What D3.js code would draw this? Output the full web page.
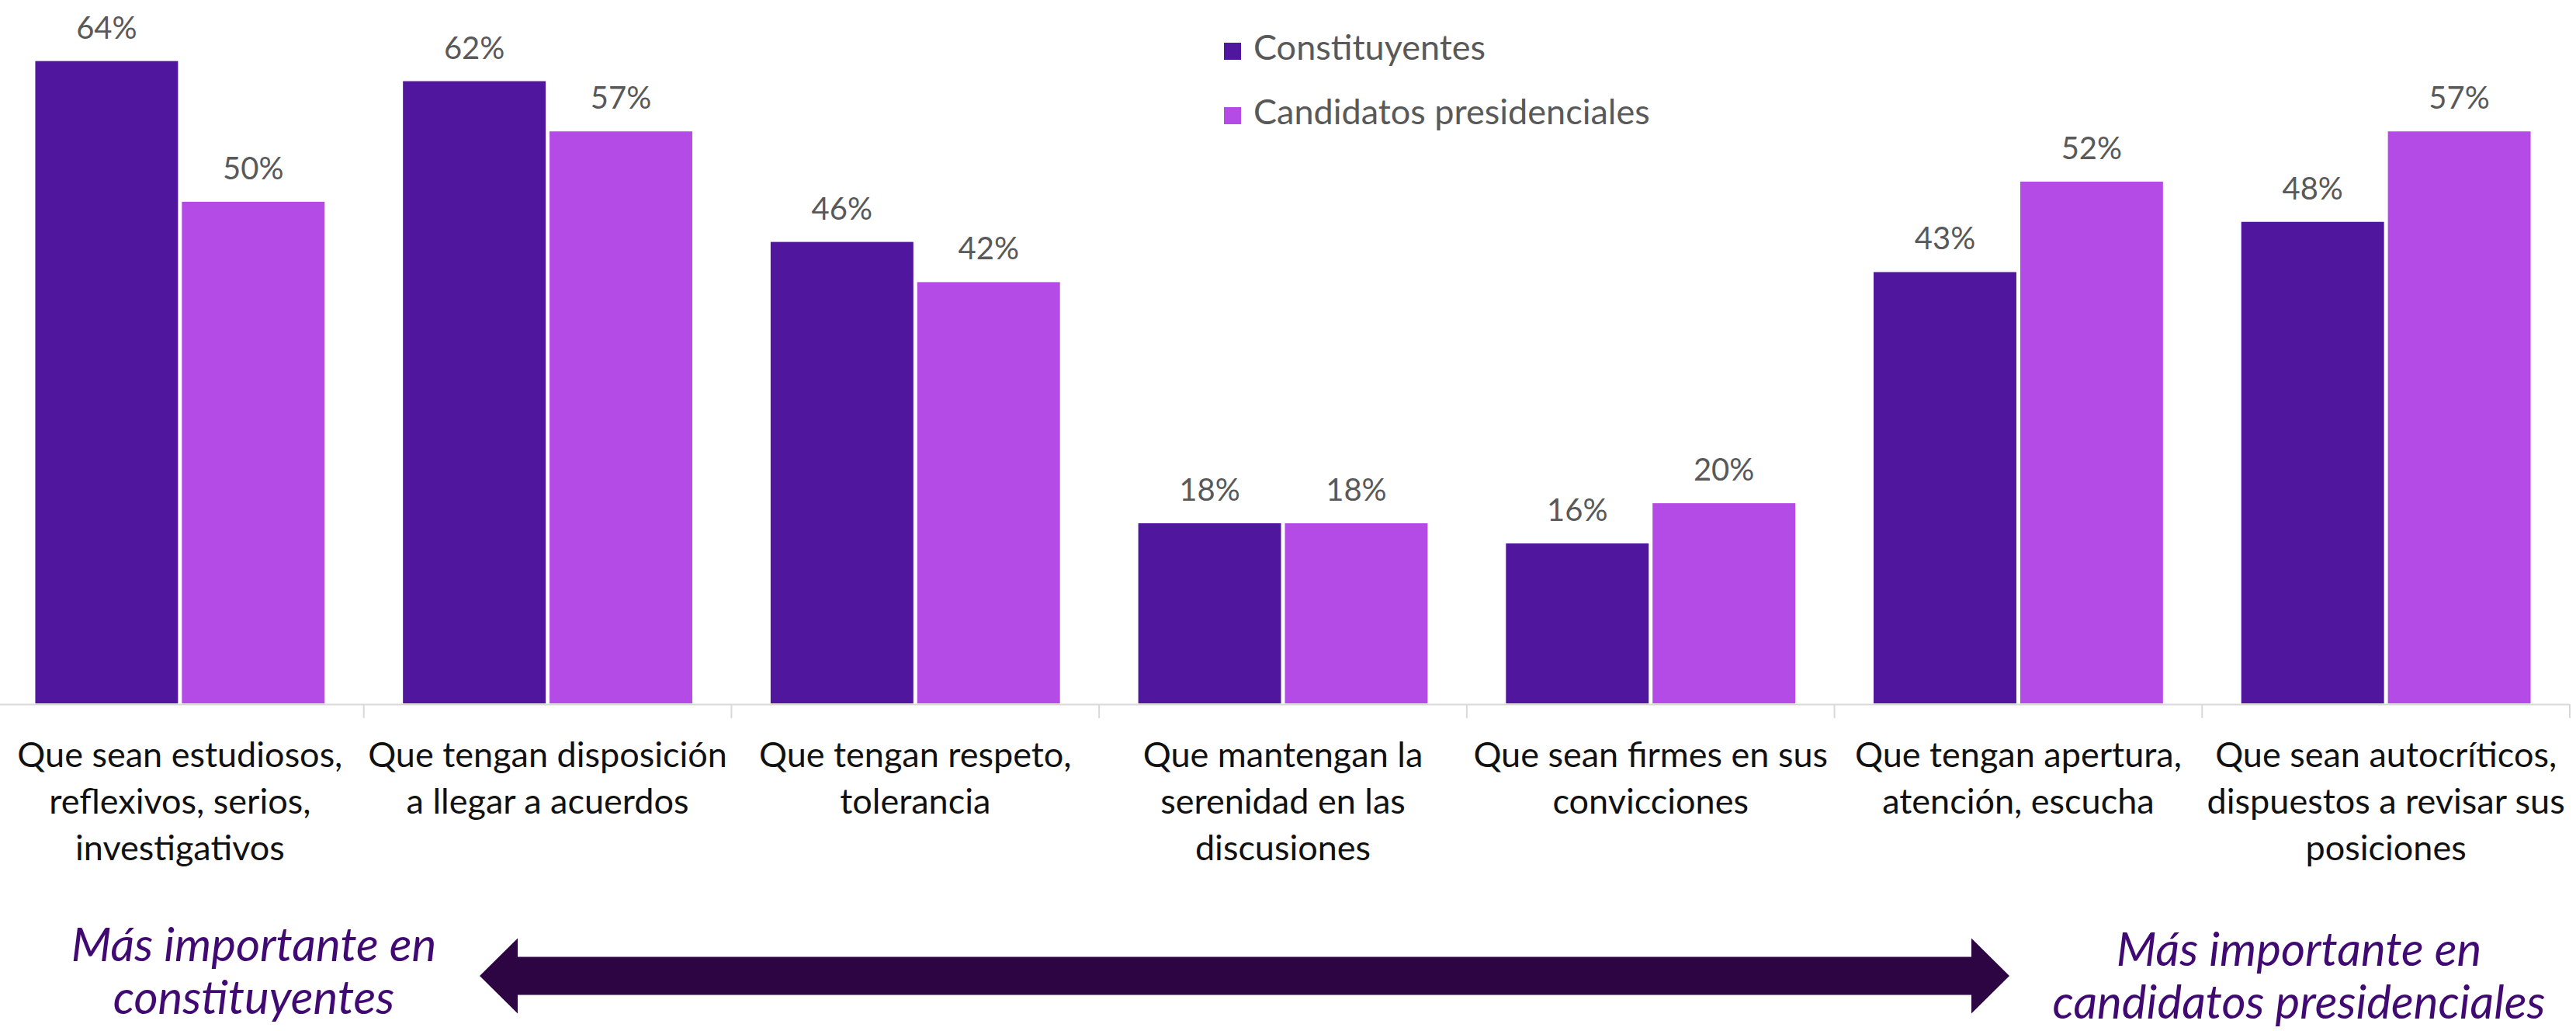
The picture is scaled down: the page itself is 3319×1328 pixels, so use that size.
<!DOCTYPE html>
<html>
<head>
<meta charset="utf-8">
<script src="https://cdn.jsdelivr.net/npm/d3@7"></script>
<style>
  html, body { margin: 0; padding: 0; background: #ffffff; }
  svg { display: block; }
  text { font-family: Lato, "Open Sans", sans-serif; }
</style>
</head>
<body>
<svg id="chart" width="3319" height="1328"></svg>
<script>
// ---- Data ----
const categories = [
  ["Que sean estudiosos,", "reflexivos, serios,", "investigativos"],
  ["Que tengan disposición", "a llegar a acuerdos"],
  ["Que tengan respeto,", "tolerancia"],
  ["Que mantengan la", "serenidad en las", "discusiones"],
  ["Que sean firmes en sus", "convicciones"],
  ["Que tengan apertura,", "atención, escucha"],
  ["Que sean autocríticos,", "dispuestos a revisar sus", "posiciones"]
];
const seriesNames = ["Constituyentes", "Candidatos presidenciales"];
const constituyentes = [0.64, 0.62, 0.46, 0.18, 0.16, 0.43, 0.48];
const candidatos = [0.50, 0.57, 0.42, 0.18, 0.20, 0.52, 0.57];
const seriesColors = ["#50169e", "#b54be6"];
const leftNote = ["Más importante en", "constituyentes"];
const rightNote = ["Más importante en", "candidatos presidenciales"];

// ---- Layout ----
const W = 3319, H = 1328;
const baseY = 907;
const svg = d3.select("#chart");

const catIdx = d3.range(categories.length);
const x0 = d3.scaleBand().domain(catIdx).range([-5, 3311]).paddingInner(0.213).paddingOuter(0.1065);
const x1 = d3.scaleBand().domain([0, 1]).range([0, x0.bandwidth()]).paddingInner(0.0264);
const y = d3.scaleLinear().domain([0, 0.7]).range([baseY, 1]);

const rows = catIdx.map(i => [constituyentes[i], candidatos[i]]);

// Bars
const groups = svg.append("g").selectAll("g").data(rows).join("g")
  .attr("transform", (d, i) => `translate(${x0(i)},0)`);

groups.selectAll("rect").data(d => d.map((v, s) => ({v, s}))).join("rect")
  .attr("x", d => x1(d.s))
  .attr("width", x1.bandwidth())
  .attr("y", d => y(d.v))
  .attr("height", d => y(0) - y(d.v) - 1)
  .attr("fill", d => seriesColors[d.s]);

groups.selectAll("text.val").data(d => d.map((v, s) => ({v, s}))).join("text")
  .attr("class", "val")
  .attr("x", d => x1(d.s) + x1.bandwidth() / 2)
  .attr("y", d => y(d.v) - 29)
  .attr("text-anchor", "middle")
  .attr("font-size", 40)
  .attr("fill", "#595959")
  .text(d => Math.round(d.v * 100) + "%");

// Category axis
const step = x0.step();
const gap = (step - x0.bandwidth()) / 2;
const boundaries = catIdx.map(i => x0(i) - gap).concat([x0(catIdx.length - 1) + x0.bandwidth() + gap]);
const axisG = svg.append("g");
axisG.append("line")
  .attr("x1", x0.range()[0]).attr("x2", x0.range()[1])
  .attr("y1", baseY + 0.5).attr("y2", baseY + 0.5)
  .attr("stroke", "#d9d9d9").attr("stroke-width", 2);
axisG.selectAll("line.tick").data(boundaries).join("line")
  .attr("class", "tick")
  .attr("x1", d => d).attr("x2", d => d)
  .attr("y1", baseY).attr("y2", baseY + 18)
  .attr("stroke", "#d9d9d9").attr("stroke-width", 2);

const catText = axisG.selectAll("text.cat").data(categories).join("text")
  .attr("class", "cat")
  .attr("text-anchor", "middle")
  .attr("font-size", 45)
  .attr("fill", "#111111");
catText.selectAll("tspan").data((d, i) => d.map(line => ({line, i}))).join("tspan")
  .attr("x", d => x0(d.i) + x0.bandwidth() / 2)
  .attr("y", (d, j) => 988 + j * 60)
  .text(d => d.line);

// Legend
const legend = svg.append("g").selectAll("g").data(seriesNames).join("g")
  .attr("transform", (d, i) => `translate(1577,${55 + i * 83})`);
legend.append("rect").attr("width", 22).attr("height", 22).attr("fill", (d, i) => seriesColors[i]);
legend.append("text").attr("x", 38).attr("y", 22).attr("font-size", 45).attr("fill", "#595959").text(d => d);

// Arrow
const ay = 1257, half = 24.5, headHalf = 48.5, headLen = 49, ax1 = 618, ax2 = 2589;
const arrowPts = [
  [ax1, ay], [ax1 + headLen, ay - headHalf], [ax1 + headLen, ay - half],
  [ax2 - headLen, ay - half], [ax2 - headLen, ay - headHalf], [ax2, ay],
  [ax2 - headLen, ay + headHalf], [ax2 - headLen, ay + half],
  [ax1 + headLen, ay + half], [ax1 + headLen, ay + headHalf]
];
svg.append("path").attr("d", d3.line()(arrowPts) + "Z").attr("fill", "#2c0542");

// Notes
function note(lines, cx, y0) {
  const t = svg.append("text").attr("text-anchor", "middle").attr("font-size", 60)
    .attr("font-style", "italic").attr("fill", "#400a72");
  t.selectAll("tspan").data(lines).join("tspan")
    .attr("x", cx).attr("y", (d, j) => y0 + j * 68).text(d => d);
}
note(leftNote, 327, 1238);
note(rightNote, 2962, 1244);
</script>
</body>
</html>
